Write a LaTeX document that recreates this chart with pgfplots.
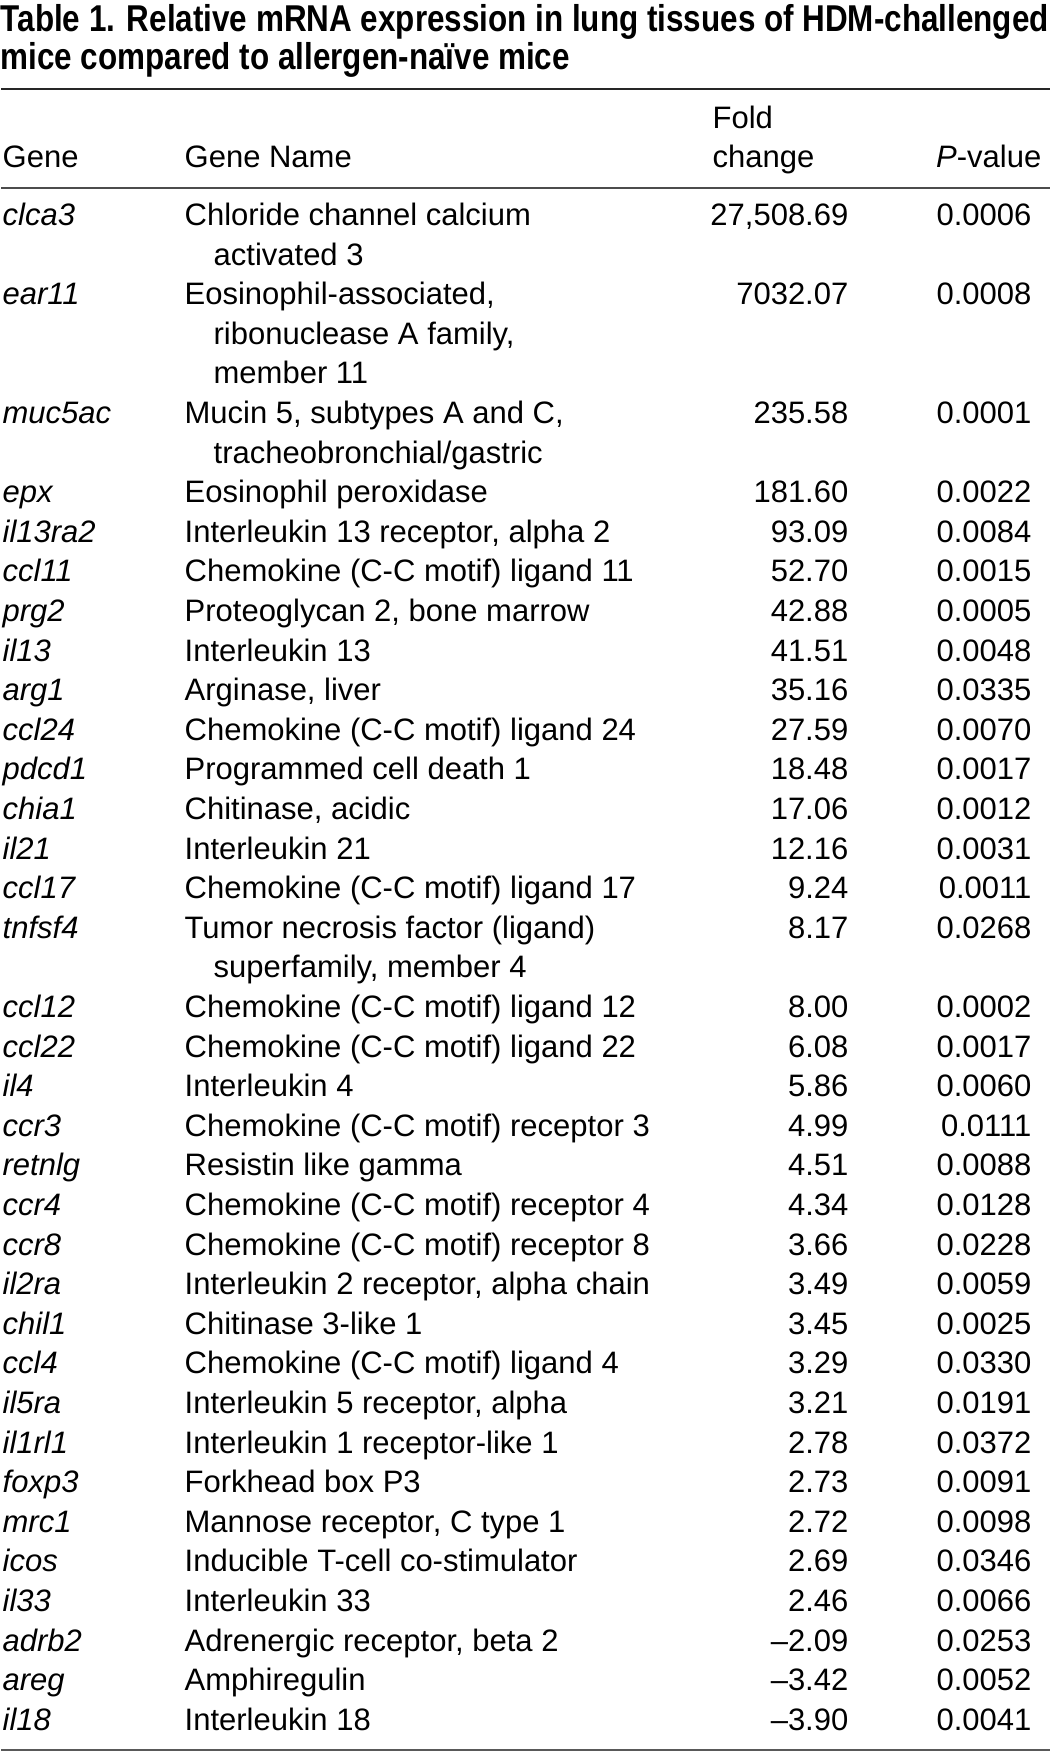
\documentclass[border=0pt]{standalone}
\usepackage{pgfplots}
\pgfplotsset{compat=1.18}
\usepackage{pgfplotstable}
\usepackage{graphicx}
\usepackage{fontspec}
\setmainfont{Liberation Sans}
\pgfdeclareplotmark{blank}{}
\newcommand{\bodyfont}{\fontsize{9.3}{11}\selectfont}
\pgfplotsset{
  textcol/.style={only marks, mark=blank, point meta=explicit symbolic, scatter,
    scatter/@pre marker code/.code={\node[inner sep=0pt,#1] at (0,0) {\pgfplotspointmeta};},
    scatter/@post marker code/.code={}},
}
\pgfplotstableread[col sep=semicolon,row sep=\\]{
line;gene;fold;p\\
0;clca3;27,508.69;0.0006\\
2;ear11;7032.07;0.0008\\
5;muc5ac;235.58;0.0001\\
7;epx;181.60;0.0022\\
8;il13ra2;93.09;0.0084\\
9;ccl11;52.70;0.0015\\
10;prg2;42.88;0.0005\\
11;il13;41.51;0.0048\\
12;arg1;35.16;0.0335\\
13;ccl24;27.59;0.0070\\
14;pdcd1;18.48;0.0017\\
15;chia1;17.06;0.0012\\
16;il21;12.16;0.0031\\
17;ccl17;9.24;0.0011\\
18;tnfsf4;8.17;0.0268\\
20;ccl12;8.00;0.0002\\
21;ccl22;6.08;0.0017\\
22;il4;5.86;0.0060\\
23;ccr3;4.99;0.0111\\
24;retnlg;4.51;0.0088\\
25;ccr4;4.34;0.0128\\
26;ccr8;3.66;0.0228\\
27;il2ra;3.49;0.0059\\
28;chil1;3.45;0.0025\\
29;ccl4;3.29;0.0330\\
30;il5ra;3.21;0.0191\\
31;il1rl1;2.78;0.0372\\
32;foxp3;2.73;0.0091\\
33;mrc1;2.72;0.0098\\
34;icos;2.69;0.0346\\
35;il33;2.46;0.0066\\
36;adrb2;–2.09;0.0253\\
37;areg;–3.42;0.0052\\
38;il18;–3.90;0.0041\\
}\genes
\pgfplotstableread[col sep=semicolon,row sep=\\]{
line;x;name\\
0;184;Chloride channel calcium\\
1;213;activated 3\\
2;184;Eosinophil-associated,\\
3;213;ribonuclease A family,\\
4;213;member 11\\
5;184;Mucin 5, subtypes A and C,\\
6;213;tracheobronchial/gastric\\
7;184;Eosinophil peroxidase\\
8;184;Interleukin 13 receptor, alpha 2\\
9;184;Chemokine (C-C motif) ligand 11\\
10;184;Proteoglycan 2, bone marrow\\
11;184;Interleukin 13\\
12;184;Arginase, liver\\
13;184;Chemokine (C-C motif) ligand 24\\
14;184;Programmed cell death 1\\
15;184;Chitinase, acidic\\
16;184;Interleukin 21\\
17;184;Chemokine (C-C motif) ligand 17\\
18;184;Tumor necrosis factor (ligand)\\
19;213;superfamily, member 4\\
20;184;Chemokine (C-C motif) ligand 12\\
21;184;Chemokine (C-C motif) ligand 22\\
22;184;Interleukin 4\\
23;184;Chemokine (C-C motif) receptor 3\\
24;184;Resistin like gamma\\
25;184;Chemokine (C-C motif) receptor 4\\
26;184;Chemokine (C-C motif) receptor 8\\
27;184;Interleukin 2 receptor, alpha chain\\
28;184;Chitinase 3-like 1\\
29;184;Chemokine (C-C motif) ligand 4\\
30;184;Interleukin 5 receptor, alpha\\
31;184;Interleukin 1 receptor-like 1\\
32;184;Forkhead box P3\\
33;184;Mannose receptor, C type 1\\
34;184;Inducible T-cell co-stimulator\\
35;184;Interleukin 33\\
36;184;Adrenergic receptor, beta 2\\
37;184;Amphiregulin\\
38;184;Interleukin 18\\
}\names
\begin{document}
\begin{tikzpicture}
\begin{axis}[
  width=315.3pt, height=525.9pt, scale only axis,
  xmin=0, xmax=1051, ymin=0, ymax=44.268,
  axis lines=none, ticks=none, clip=false,
]
\addplot[draw=none] coordinates {(0,0) (1051,44.268)};
% rules
\addplot[black!85, line width=0.45pt] coordinates {(1,42.020) (1050,42.020)};
\addplot[black!70, line width=0.45pt] coordinates {(1,39.520) (1050,39.520)};
\addplot[black!65, line width=0.6pt] coordinates {(1,0.07) (1050,0.07)};
% title
\node[anchor=base west, inner sep=0pt] at (axis cs:0,43.460)
  {\resizebox{314.4pt}{\height}{\vtop{\fontsize{11.2}{11.4}\selectfont\bfseries
   \hbox{Table 1. Relative mRNA expression in lung tissues of HDM-challenged}
   \hbox{mice compared to allergen-naïve mice}}}};
% headers
\node[anchor=base west, inner sep=0pt, font=\bodyfont] at (axis cs:2,40.025) {Gene};
\node[anchor=base west, inner sep=0pt, font=\bodyfont] at (axis cs:184,40.025) {Gene Name};
\node[anchor=base west, inner sep=0pt, font=\bodyfont] at (axis cs:712,41.010) {Fold};
\node[anchor=base west, inner sep=0pt, font=\bodyfont] at (axis cs:712,40.025) {change};
\node[anchor=base east, inner sep=0pt, font=\bodyfont] at (axis cs:1042,40.025) {\textit{P}-value};
% columns
\addplot[textcol={anchor=base west, font=\bodyfont\itshape}] table[x expr=2, y expr=38.573-\thisrow{line}, meta=gene] {\genes};
\addplot[textcol={anchor=base west, font=\bodyfont}] table[x=x, y expr=38.573-\thisrow{line}, meta=name] {\names};
\addplot[textcol={anchor=base east, font=\bodyfont}] table[x expr=849, y expr=38.573-\thisrow{line}, meta=fold] {\genes};
\addplot[textcol={anchor=base east, font=\bodyfont}] table[x expr=1032, y expr=38.573-\thisrow{line}, meta=p] {\genes};
\end{axis}
\end{tikzpicture}
\end{document}
